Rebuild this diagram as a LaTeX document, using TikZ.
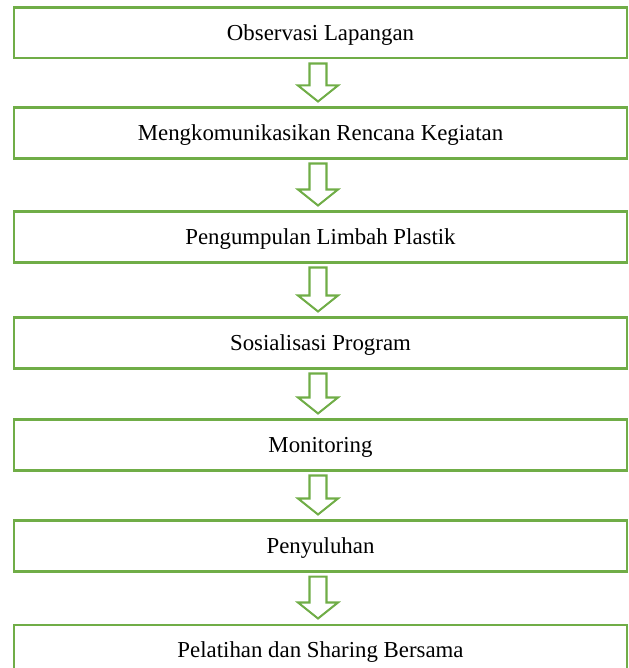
\documentclass[tikz,border=0pt]{standalone}
\usepackage{fontspec}
\setmainfont{Liberation Serif}
\usetikzlibrary{calc}
\definecolor{leafgreen}{HTML}{70AD47}

\begin{document}
\begin{tikzpicture}[
  x=0.02cm, y=-0.02cm,
  every node/.style={font=\fontsize{13}{15}\selectfont},
  stepbox/.style={draw=leafgreen, line width=1.15pt, fill=white,
    minimum width=12.26cm, minimum height=1.02cm, inner sep=0pt,
    text height=8.6pt, text depth=0pt, align=center},
  flowarrow/.style={draw=leafgreen, line width=1.15pt, fill=white,
    line join=miter},
]
\useasboundingbox (0,0) rectangle (628,668);

% Steps
\node[stepbox] (s1) at (320.5,33)  {Observasi Lapangan};
\node[stepbox] (s2) at (320.5,133) {Mengkomunikasikan Rencana Kegiatan};
\node[stepbox] (s3) at (320.5,237) {Pengumpulan Limbah Plastik};
\node[stepbox] (s4) at (320.5,343) {Sosialisasi Program};
\node[stepbox] (s5) at (320.5,445) {Monitoring};
\node[stepbox] (s6) at (320.5,546) {Penyuluhan};
\node[stepbox] (s7) at (320.5,650) {Pelatihan dan Sharing Bersama};

% Block arrows between the steps
\foreach \a/\b in {s1/s2, s2/s3, s3/s4, s4/s5, s5/s6, s6/s7}{
  \draw[flowarrow] ($(\a.south)+(-11,4)$) -- ($(\a.south)+(6,4)$)
    -- ($(\b.north)+(6,-21)$) -- ($(\b.north)+(17.5,-21)$)
    -- ($(\b.north)+(-2.5,-5)$) -- ($(\b.north)+(-22.5,-21)$)
    -- ($(\b.north)+(-11,-21)$) -- cycle;
}

\end{tikzpicture}
\end{document}
